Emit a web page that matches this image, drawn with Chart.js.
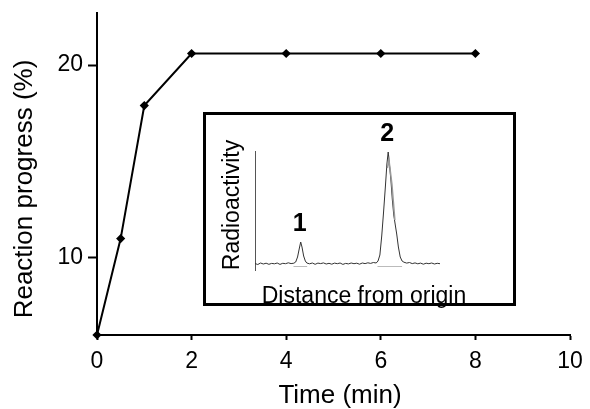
<!DOCTYPE html>
<html>
<head>
<meta charset="utf-8">
<script src="https://cdn.jsdelivr.net/npm/chart.js@4/dist/chart.umd.min.js"></script>
<style>
    html, body { margin: 0; padding: 0; background: #fff; }
    #wrap { position: relative; width: 590px; height: 409px; }
    #main-chart, #inset-chart { position: absolute; left: 0; top: 0; }
    #inset-box {
        position: absolute; left: 203px; top: 112px; width: 313px; height: 194px;
        box-sizing: border-box; border: 3px solid #000; background: #fff;
    }
    #inset-chart { pointer-events: none; }
</style>
</head>
<body>
<div id="wrap">
    <canvas id="main-chart" width="590" height="409"></canvas>
    <div id="inset-box"></div>
    <canvas id="inset-chart" width="590" height="409"></canvas>
</div>
<script>
// Main time course
const times = [0, 0.5, 1, 2, 4, 6, 8];
const progress = [6, 11, 17.9, 20.6, 20.6, 20.6, 20.6];
const xTickValues = [0, 2, 4, 6, 8, 10];
const yTickValues = [10, 20];

// Inset radio-TLC trace
const traceDistance = [0, 1.5, 3, 4.5, 6, 7.5, 9, 10.5, 12, 13.5, 15, 16.5, 18, 19.5, 21, 22, 23, 24, 24.7, 25.4,
    26.3, 27.2, 28, 29.5, 31, 32.5, 34, 35.5, 37, 38.5, 40, 41.5, 43, 44.5, 46, 47.5, 49, 50.5, 52, 53.5,
    55, 56.5, 58, 59.5, 61, 62.5, 64, 65.5, 66.5, 67.5, 68.5, 69.5, 70.5, 71.3, 72, 72.7, 73.5, 74.2, 75, 76,
    76.6, 77.5, 78.5, 79.5, 80.5, 82, 83.5, 85, 86.5, 88, 89.5, 91, 92.5, 94, 95.5, 97, 98.5, 100];
const traceCounts = [0.5, -0.5, 1, 0, 0.8, -0.3, 0.6, 0.2, 1, -0.4, 0.7, 0.3, 1.2, 0.4, 0.8, 2, 7, 16, 22, 17,
    8, 3, 1, 0.2, 1, -0.3, 0.9, 0.4, 1.1, 0, 0.7, -0.2, 0.9, 0.3, 1, -0.4, 0.6, 0.1, 1, 0.3,
    0.8, -0.2, 1, 0.4, 1.2, 0.6, 1.5, 1, 3, 9, 28, 52, 78, 100, 112, 99, 83, 65, 49, 37,
    30, 17, 7, 3, 1.8, 0.9, 1.5, 0.4, 1.1, 0.2, 0.9, -0.2, 0.8, 0.3, 1, 0, 0.7, 0.3];
// second (grey) scan over peak 2, gives the shoulder on its right flank
const shoulderDistance = [71.6, 72.4, 73.2, 74, 74.8, 75.6];
const shoulderCounts = [96, 104, 92, 80, 62, 44];
const peakNames = ['1', '2'];
const peakDistance = [24.7, 72];
const peakHeight = [22, 112];
// integration windows under each peak
const windowStart = [20.8, 66.2];
const windowEnd = [28.2, 79.5];
const windowLevel = -2.5;

const FONT = '"Liberation Sans", Arial, Helvetica, sans-serif';
Chart.defaults.font.family = FONT;
Chart.defaults.color = '#000';

function drawText(ctx, text, x, y, size, rotate, bold) {
    ctx.save();
    ctx.translate(x, y);
    if (rotate) ctx.rotate(-Math.PI / 2);
    ctx.font = (bold ? 'bold ' : '') + size + 'px ' + FONT;
    ctx.fillStyle = '#000';
    ctx.textAlign = 'center';
    ctx.textBaseline = 'middle';
    ctx.fillText(text, 0, 0);
    ctx.restore();
}

const mainTitles = {
    id: 'mainTitles',
    afterDraw(chart) {
        const ctx = chart.ctx;
        drawText(ctx, 'Reaction progress (%)', 25, 189, 26, true);
        drawText(ctx, 'Time (min)', 340, 396, 26, false);
    }
};

new Chart(document.getElementById('main-chart'), {
    type: 'line',
    data: {
        datasets: [{
            data: times.map((t, i) => ({ x: t, y: progress[i] })),
            borderColor: '#000',
            backgroundColor: '#000',
            borderWidth: 2,
            pointStyle: 'rectRot',
            pointRadius: 3.2,
            tension: 0,
            clip: false
        }]
    },
    options: {
        responsive: false,
        animation: false,
        layout: { padding: { top: 13, right: 20, left: 0, bottom: 0 } },
        plugins: { legend: { display: false }, tooltip: { enabled: false } },
        scales: {
            x: {
                type: 'linear',
                min: 0,
                max: 10,
                afterBuildTicks: scale => { scale.ticks = xTickValues.map(v => ({ value: v })); },
                afterFit: scale => { scale.height = 74; scale.paddingLeft = 0; scale.paddingRight = 0; },
                ticks: { font: { size: 23 }, padding: 8, color: '#000' },
                grid: { display: true, drawOnChartArea: false, drawTicks: true, tickLength: 5, tickWidth: 2, tickColor: '#000', color: '#000' },
                border: { display: true, color: '#000', width: 2 }
            },
            y: {
                type: 'linear',
                min: 6,
                max: 22.7,
                afterBuildTicks: scale => { scale.ticks = yTickValues.map(v => ({ value: v })); },
                afterFit: scale => { scale.width = 97; scale.paddingTop = 0; scale.paddingBottom = 0; },
                ticks: { font: { size: 23 }, padding: 5, color: '#000' },
                grid: { display: true, drawOnChartArea: false, drawTicks: true, tickLength: 9, tickWidth: 2, tickColor: '#000', color: '#000' },
                border: { display: true, color: '#000', width: 2 }
            }
        }
    },
    plugins: [mainTitles]
});

const insetTexts = {
    id: 'insetTexts',
    afterDraw(chart) {
        const ctx = chart.ctx;
        const xs = chart.scales.x, ys = chart.scales.y;
        drawText(ctx, 'Radioactivity', 233, 205, 23, true);
        drawText(ctx, 'Distance from origin', 364, 297, 23, false);
        peakNames.forEach((name, i) => {
            drawText(ctx, name, xs.getPixelForValue(peakDistance[i]) - 1, ys.getPixelForValue(peakHeight[i]) - 18, 25, false, true);
        });
    }
};

const windowPoints = [];
windowStart.forEach((s, i) => {
    windowPoints.push({ x: s, y: windowLevel }, { x: windowEnd[i], y: windowLevel }, { x: windowEnd[i], y: null });
});

new Chart(document.getElementById('inset-chart'), {
    type: 'line',
    data: {
        datasets: [{
            data: windowPoints,
            borderColor: '#bbb',
            borderWidth: 1,
            pointRadius: 0,
            spanGaps: false
        }, {
            data: shoulderDistance.map((d, i) => ({ x: d, y: shoulderCounts[i] })),
            borderColor: '#999',
            borderWidth: 1.5,
            pointRadius: 0,
            tension: 0
        }, {
            data: traceDistance.map((d, i) => ({ x: d, y: traceCounts[i] })),
            borderColor: '#333',
            borderWidth: 1,
            pointRadius: 0,
            tension: 0
        }]
    },
    options: {
        responsive: false,
        animation: false,
        layout: { padding: { top: 151, right: 150, left: 255, bottom: 139 } },
        plugins: { legend: { display: false }, tooltip: { enabled: false } },
        scales: {
            x: { type: 'linear', min: 0, max: 100, display: false },
            y: {
                type: 'linear',
                min: -6,
                max: 113,
                afterFit: scale => { scale.width = 0; },
                ticks: { display: false },
                grid: { display: false, drawTicks: false },
                border: { display: true, color: '#555', width: 1 }
            }
        }
    },
    plugins: [insetTexts]
});
</script>
</body>
</html>
